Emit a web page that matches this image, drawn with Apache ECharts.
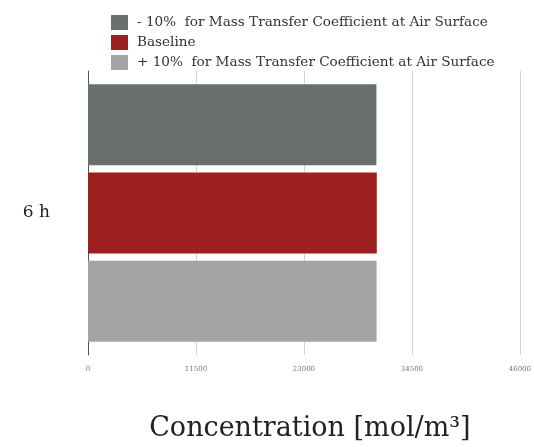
<!DOCTYPE html>
<html><head><meta charset="utf-8">
<script src="https://cdn.jsdelivr.net/npm/echarts@6/dist/echarts.min.js"></script>
<style>html,body{margin:0;padding:0;background:#fff}#c{width:534px;height:447px}</style>
</head><body><div id="c"></div>
<script>
const categories = ['6 h'];
const seriesNames = ['- 10%  for Mass Transfer Coefficient at Air Surface', 'Baseline', '+ 10%  for Mass Transfer Coefficient at Air Surface'];
const minus10 = [30720];
const baseline = [30760];
const plus10 = [30740];
const xTicks = [0, 11500, 23000, 34500, 46000];
const colors = ['#6a706e', '#9c2020', '#a4a4a4'];
const font = '"DejaVu Serif", "Liberation Serif", serif';
const values = [minus10, baseline, plus10];
const chart = echarts.init(document.getElementById('c'));
chart.setOption({
  animation: false,
  textStyle: {fontFamily: font},
  legend: {
    orient: 'vertical', left: 106, top: 10, itemWidth: 17, itemHeight: 15, itemGap: 5,
    data: seriesNames, icon: 'rect',
    textStyle: {fontFamily: font, fontSize: 13.6, color: '#333', padding: [0, 0, 0, 4]}
  },
  grid: {left: 88, right: 13, top: 71, bottom: 84},
  xAxis: {
    type: 'value', min: xTicks[0], max: xTicks[xTicks.length - 1], interval: 11500,
    name: 'Concentration [mol/m³]', nameLocation: 'middle', nameGap: 60,
    nameTextStyle: {fontFamily: font, fontSize: 27, color: '#222', padding: [0, 0, 0, 12]},
    axisLine: {show: false}, axisTick: {show: false},
    axisLabel: {fontSize: 7, color: '#777', margin: 11, formatter: v => String(v)},
    splitLine: {lineStyle: {color: '#d4d4d4'}}
  },
  yAxis: {
    type: 'category', data: categories, inverse: true,
    axisLine: {lineStyle: {color: '#555'}}, axisTick: {show: false},
    axisLabel: {fontSize: 17, color: '#222', margin: 38, fontFamily: font}
  },
  series: seriesNames.map((n, i) => ({
    name: n, type: 'bar', data: values[i], barWidth: 81, barGap: '9%',
    itemStyle: {color: colors[i]}
  }))
});
</script></body></html>
